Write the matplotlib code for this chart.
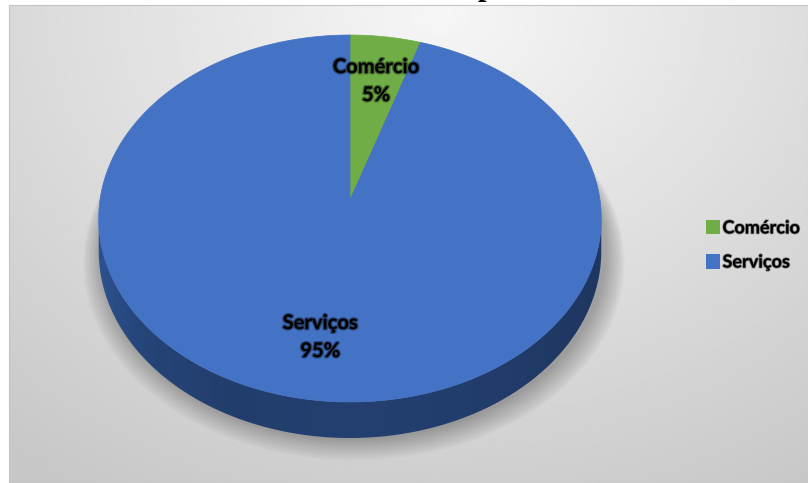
import numpy as np
import matplotlib.pyplot as plt
from matplotlib.patches import Polygon, Rectangle, Patch
from matplotlib.colors import to_rgb
import matplotlib.patheffects as pe

# data
categories = ["Comércio", "Serviços"]
values = [5, 95]
colors = ["#70AD47", "#4472C4"]

W, H = 808, 483

# geometry of the 3D pie (pixels)
cx, cy = 350, 200        # projected centre of the top face
rx = 250                 # horizontal radius
far, near = 165, 202     # centre -> far rim / near rim
front_depth = 36         # thickness seen at the front

C = -(near - far) / (near + far)
A = far * (1 - C)
D = front_depth * (1 + C)


def proj(u, v, z=0.0):
    # circle coords (u right, v toward viewer) -> screen pixels
    s = 1.0 / (1.0 + C * v)
    return cx + rx * u * s, cy + (A * v + D * z) * s


def rim(phi, z=0.0, r=1.0):
    ph = np.radians(phi)
    return proj(r * np.sin(ph), -r * np.cos(ph), z)


fig = plt.figure(figsize=(W / 100, H / 100), dpi=100)
ax = fig.add_axes([0, 0, 1, 1])

# chart area background (radial grey gradient)
gx, gy = np.meshgrid(np.linspace(9, W, 300), np.linspace(5, H, 200))
rr = np.sqrt(((gx - 440) / 640) ** 2 + ((gy - 10) / 520) ** 2)
bg = 0.965 - 0.17 * np.clip(rr, 0, 1.1)
ax.imshow(bg, cmap="gray", vmin=0, vmax=1, extent=(9, W, H, 5),
          origin="upper", interpolation="bilinear", zorder=0)
ax.add_patch(Rectangle((9, 5), W - 9, H - 5, fill=False, ec="#c4c4c4", lw=0.8, zorder=1))

# visible range of the side wall
phi_r = np.degrees(np.arccos(C))
phi_l = 360 - phi_r

# soft shadow under the pie, built from the base ellipse so it only shows below / beside it
base = np.array(rim(np.linspace(0, 360, 360), z=1.0)).T
bcy = base[:, 1].mean()
for k in range(14, 0, -1):
    sx = 1 + 0.0055 * k
    sy = 1 + 0.004 * k
    pts = np.column_stack([cx + (base[:, 0] - cx) * sx + 4,
                           bcy + (base[:, 1] - bcy) * sy + 0.8 * k])
    ax.add_patch(Polygon(pts, closed=True, fc="black", ec="none", alpha=0.02, zorder=2))

# side wall and top face of each slice
bounds = np.concatenate([[0], np.cumsum(values)]) / np.sum(values) * 360
gxs = np.linspace(90, 610, 200)
shade = np.interp(gxs, [90, 140, 230, 350, 500, 610], [0.74, 0.6, 0.54, 0.56, 0.53, 0.48])
for a0, a1, col in zip(bounds[:-1], bounds[1:], colors):
    lo, hi = max(a0, phi_r), min(a1, phi_l)
    if hi > lo:
        ph = np.linspace(lo, hi, 200)
        top = np.array(rim(ph)).T
        bot = np.array(rim(ph[::-1], z=1.0)).T
        side = Polygon(np.vstack([top, bot]), closed=True, fc="none", ec="none", zorder=3)
        ax.add_patch(side)
        rgb = np.array(to_rgb(col))
        img = np.clip(shade[None, :, None] * rgb[None, None, :] * np.array([0.92, 1.0, 1.02]), 0, 1)
        im = ax.imshow(np.repeat(img, 2, axis=0), extent=(90, 610, 460, 190),
                       origin="upper", interpolation="bilinear", zorder=3)
        im.set_clip_path(side)

for a0, a1, col in zip(bounds[:-1], bounds[1:], colors):
    ph = np.linspace(a0, a1, max(int(a1 - a0) * 2, 10))
    arc = np.array(rim(ph)).T
    pts = np.vstack([[proj(0, 0)], arc])
    ax.add_patch(Polygon(pts, closed=True, fc=col, ec=col, lw=0.5, zorder=4))

# data labels
for a0, a1, name, val in zip(bounds[:-1], bounds[1:], categories, values):
    lx, ly = rim((a0 + a1) / 2, r=0.71)
    ax.text(lx, ly, f"{name}\n{val}%", ha="center", va="center", fontsize=14.5,
            fontfamily="Lato", fontweight="bold", color="black", linespacing=1.5,
            zorder=6, path_effects=[pe.withStroke(linewidth=2.0, foreground="black", alpha=0.4)])

ax.set_xlim(0, W)
ax.set_ylim(H, 0)
ax.set_aspect("auto")
ax.axis("off")

# legend
handles = [Patch(facecolor=c, edgecolor="none") for c in colors]
leg = fig.legend(handles, categories, loc="center left", bbox_to_anchor=(699 / W, 1 - 245 / H),
                 frameon=False, prop={"family": "Lato", "weight": "bold", "size": 13},
                 handlelength=0.75, handleheight=0.85, handletextpad=0.15,
                 labelspacing=0.95, borderaxespad=0)
for t in leg.get_texts():
    t.set_path_effects([pe.withStroke(linewidth=1.2, foreground="black", alpha=0.4)])

# title (only the descender shows above the chart area)
fig.text(486 / W, 1 + 5 / H, "p", ha="center", va="baseline", fontsize=22,
         fontfamily="Liberation Serif", fontweight="bold", color="black")

plt.savefig("out.png", dpi=100)
